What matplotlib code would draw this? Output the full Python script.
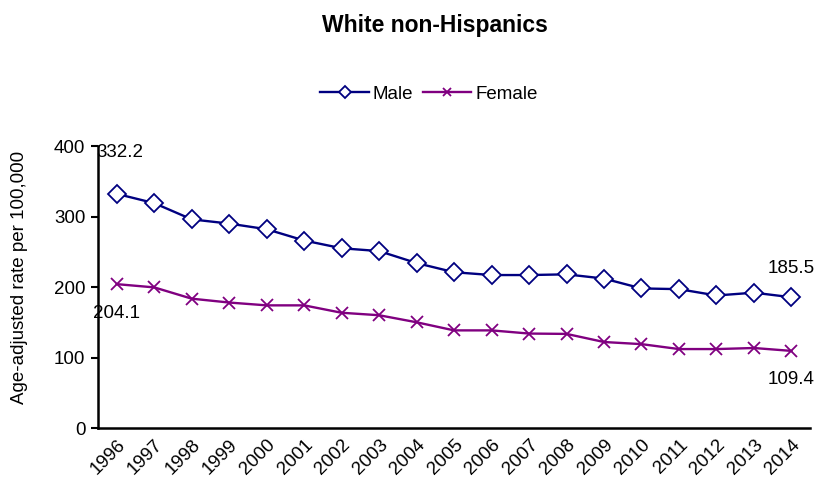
import numpy as np
import matplotlib.pyplot as plt

plt.rcParams['font.family'] = ['Liberation Sans', 'DejaVu Sans']

years = [str(y) for y in range(1996, 2015)]
male = [332.2, 319, 296, 290, 282, 266, 255, 251, 234, 221,
        217, 217, 218, 212, 198, 197, 188, 192, 185.5]
female = [204.1, 199.5, 183.5, 178, 174, 174, 163.5, 160, 150, 138.5,
          138.5, 134, 133.5, 122, 119, 112, 112, 113.5, 109.4]

fs = 13.5
fig = plt.figure(figsize=(8.2, 4.82), dpi=100)
ax = fig.add_axes([0.1195, 0.112, 0.8685, 0.585])

x = np.arange(len(years))
ax.plot(x, male, color='#000080', lw=1.7, marker='D', markersize=9,
        markerfacecolor='white', markeredgecolor='#000080', markeredgewidth=1.3,
        label='Male')
ax.plot(x, female, color='#800080', lw=1.7, marker='x', markersize=9,
        markeredgewidth=1.3, label='Female')

# value labels on first and last points
ax.text(x[0] - 0.55, 391, f"{male[0]:.1f}", fontsize=fs, va='center', ha='left')
ax.text(x[0] - 0.62, female[0] - 41, f"{female[0]:.1f}", fontsize=fs, va='center', ha='left')
ax.text(x[-1], male[-1] + 41, f"{male[-1]:.1f}", fontsize=fs, va='center', ha='center')
ax.text(x[-1], female[-1] - 41, f"{female[-1]:.1f}", fontsize=fs, va='center', ha='center')

ax.set_xlim(-0.5, len(years) - 0.5)
ax.set_ylim(0, 400)
ax.set_yticks([0, 100, 200, 300, 400])
ax.set_xticks(x)
ax.set_xticklabels(years, rotation=45, ha='right', rotation_mode='anchor')
ax.tick_params(axis='x', length=0, labelsize=fs, pad=6)
ax.tick_params(axis='y', length=5, width=1.5, labelsize=fs, direction='out', pad=4)
for s in ['top', 'right']:
    ax.spines[s].set_visible(False)
ax.spines['left'].set_linewidth(1.8)
ax.spines['bottom'].set_linewidth(1.8)
ax.set_ylabel('Age-adjusted rate per 100,000', fontsize=fs)
ax.yaxis.set_label_coords(-0.098, 0.535)

fig.suptitle('White non-Hispanics', fontsize=16.5, fontweight='bold', x=0.53, y=0.97)
fig.legend(loc='center', bbox_to_anchor=(0.523, 0.805), ncol=2, frameon=False,
           fontsize=fs, handlelength=2.6, handletextpad=0.2, columnspacing=0.5,
           markerscale=0.7)

fig.savefig('out.png', dpi=100)
